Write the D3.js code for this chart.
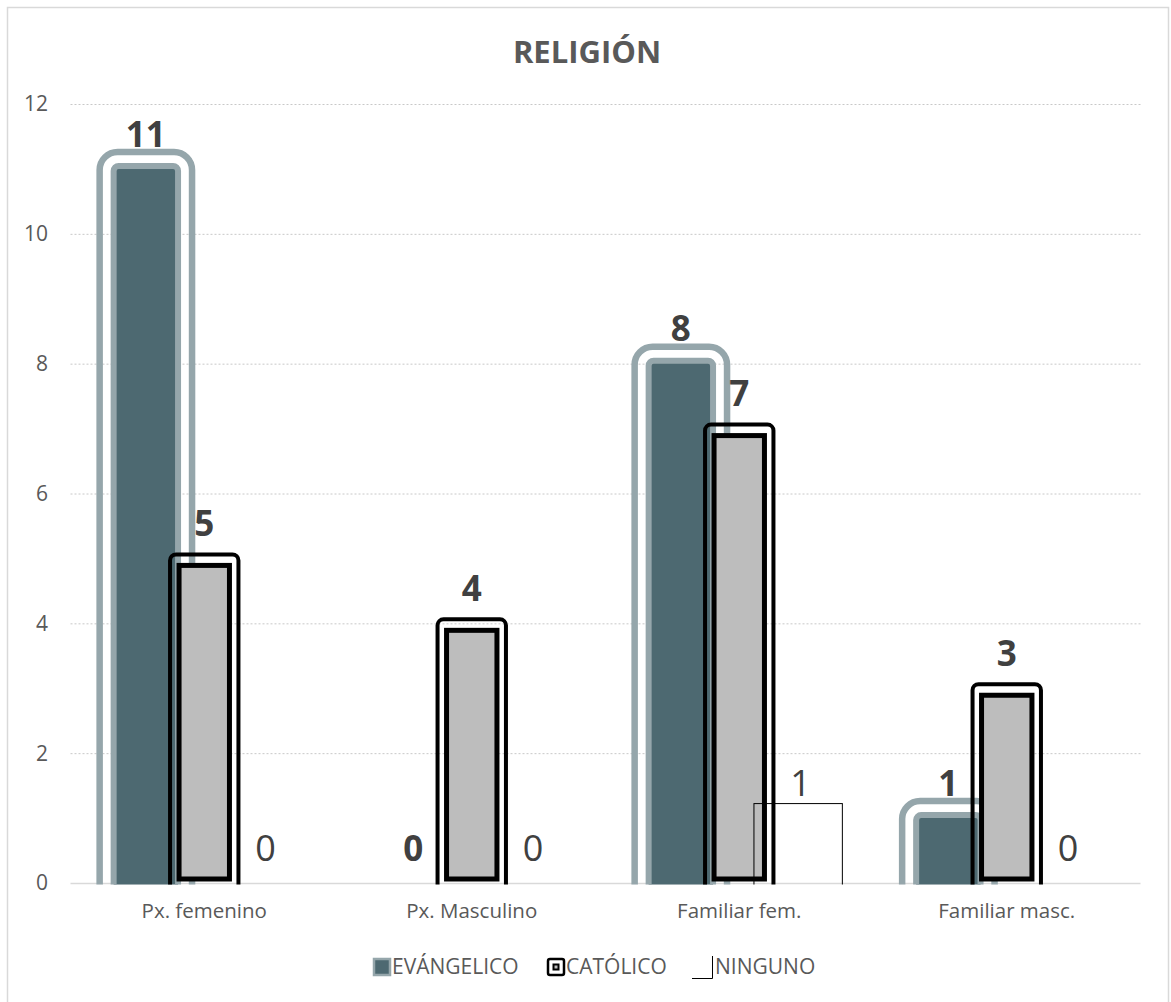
<!DOCTYPE html>
<html>
<head>
<meta charset="utf-8">
<script src="https://cdn.jsdelivr.net/npm/d3@7"></script>
<style>
  body { margin: 0; background: white; }
  text { font-family: "Open Sans", sans-serif; }
</style>
</head>
<body>
<div id="container"></div>
<script>
// chart data
let categories = ["Px. femenino", "Px. Masculino", "Familiar fem.", "Familiar masc."];
let series = ["EVÁNGELICO", "CATÓLICO", "NINGUNO"];
let evangelico = [11, 0, 8, 1];
let catolico = [5, 4, 7, 3];
let ninguno = [0, 0, 1, 0];
let yTicks = [0, 2, 4, 6, 8, 10, 12];

let values = [evangelico, catolico, ninguno];

let w = 1171;
let h = 1002;

let viz = d3.select("#container")
  .append("svg")
  .attr("width", w)
  .attr("height", h)
  .style("background-color", "white");

// chart border
viz.append("rect")
  .attr("x", 7.5).attr("y", 7.5)
  .attr("width", 1161).attr("height", 1010)
  .attr("fill", "none")
  .attr("stroke", "#d9d9d9")
  .attr("stroke-width", 1.5);

// title
viz.append("text")
  .attr("x", 587).attr("y", 63)
  .attr("text-anchor", "middle")
  .attr("font-size", 31)
  .attr("font-weight", "bold")
  .attr("fill", "#595959")
  .text("RELIGIÓN");

let yScale = d3.scaleLinear().domain([0, 12]).range([883, 104]);
let x0 = d3.scaleBand().domain(categories).range([70.5, 1140.5]);
let x1 = d3.scaleBand().domain(series).range([0, x0.bandwidth()]).paddingOuter(0.79);

// gridlines
viz.append("g").selectAll("line")
  .data(yTicks.filter(d => d > 0))
  .enter().append("line")
  .attr("x1", 70.5).attr("x2", 1140.5)
  .attr("y1", d => yScale(d) + 0.5).attr("y2", d => yScale(d) + 0.5)
  .attr("stroke", "#c8c8c8")
  .attr("stroke-dasharray", "2,2");

viz.append("line")
  .attr("x1", 70.5).attr("x2", 1140.5)
  .attr("y1", yScale(0) + 0.5).attr("y2", yScale(0) + 0.5)
  .attr("stroke", "#d9d9d9")
  .attr("stroke-width", 1.5);

// y labels
viz.append("g").selectAll("text")
  .data(yTicks)
  .enter().append("text")
  .attr("x", 48).attr("y", d => yScale(d))
  .attr("dy", "0.35em")
  .attr("text-anchor", "end")
  .attr("font-size", 21)
  .attr("fill", "#595959")
  .text(d => d);

// x labels
viz.append("g").selectAll("text")
  .data(categories)
  .enter().append("text")
  .attr("x", d => x0(d) + x0.bandwidth() / 2)
  .attr("y", 918)
  .attr("text-anchor", "middle")
  .attr("font-size", 20.5)
  .attr("fill", "#595959")
  .text(d => d);

// clip bars at the axis
viz.append("clipPath").attr("id", "plotclip")
  .append("rect").attr("x", 0).attr("y", 0).attr("width", w).attr("height", 884.5);

let bars = viz.append("g").attr("clip-path", "url(#plotclip)");

function barData(si) {
  return categories.map(function (c, i) {
    return { cat: c, value: values[si][i], s: series[si] };
  }).filter(d => d.value > 0);
}

// evangelico: dark fill, gray inner border, rounded outer ring
let ev = bars.append("g").selectAll("g").data(barData(0)).enter().append("g");
ev.append("rect")
  .attr("x", d => x0(d.cat) + x1(d.s) - 17)
  .attr("y", d => yScale(d.value) - 17)
  .attr("width", x1.bandwidth() + 34)
  .attr("height", d => yScale(0) - yScale(d.value) + 40)
  .attr("rx", 18)
  .attr("fill", "none")
  .attr("stroke", "#95a6ab")
  .attr("stroke-width", 6.5);
ev.append("rect")
  .attr("x", d => x0(d.cat) + x1(d.s) - 3)
  .attr("y", d => yScale(d.value) - 3)
  .attr("width", x1.bandwidth() + 6)
  .attr("height", d => yScale(0) - yScale(d.value) + 20)
  .attr("rx", 5)
  .attr("fill", "#4d6971")
  .attr("stroke", "#95a6ab")
  .attr("stroke-width", 6);

// catolico: gray fill, black inner border, rounded black outer ring
let ca = bars.append("g").selectAll("g").data(barData(1)).enter().append("g");
ca.append("rect")
  .attr("x", d => x0(d.cat) + x1(d.s) - 5)
  .attr("y", d => yScale(d.value) - 4)
  .attr("width", x1.bandwidth() + 10)
  .attr("height", d => yScale(0) - yScale(d.value) + 20)
  .attr("rx", 6)
  .attr("fill", "none")
  .attr("stroke", "#000")
  .attr("stroke-width", 4);
ca.append("rect")
  .attr("x", d => x0(d.cat) + x1(d.s) + 4)
  .attr("y", d => yScale(d.value) + 7)
  .attr("width", x1.bandwidth() - 8)
  .attr("height", d => yScale(0) - yScale(d.value) - 11)
  .attr("fill", "#bdbdbd")
  .attr("stroke", "#000")
  .attr("stroke-width", 5);

// ninguno: thin outline
bars.append("g").selectAll("rect").data(barData(2)).enter().append("rect")
  .attr("x", d => x0(d.cat) + x1(d.s) - 15 + 0.5)
  .attr("y", d => yScale(d.value) - 15 + 0.5)
  .attr("width", x1.bandwidth() + 30)
  .attr("height", d => yScale(0) - yScale(d.value) + 20)
  .attr("fill", "none")
  .attr("stroke", "#000")
  .attr("stroke-width", 1);

// data labels
series.forEach(function (s, si) {
  viz.append("g").selectAll("text")
    .data(categories.map((c, i) => ({ cat: c, value: values[si][i] })))
    .enter().append("text")
    .attr("x", d => x0(d.cat) + x1(s) + x1.bandwidth() / 2 + (si == 2 ? 3 : 0))
    .attr("y", d => yScale(d.value) - 35)
    .attr("dy", "0.36em")
    .attr("text-anchor", "middle")
    .attr("font-size", si == 2 ? 36 : 35)
    .attr("font-weight", si == 2 ? "normal" : "bold")
    .attr("fill", "#404040")
    .text(d => d.value);
});

// legend
let legY = 967;
let lg = viz.append("g");
lg.append("rect").attr("x", 374).attr("y", legY - 8).attr("width", 16).attr("height", 16)
  .attr("fill", "#4d6971").attr("stroke", "#95a6ab").attr("stroke-width", 2.5);
lg.append("text").attr("x", 392).attr("y", legY).attr("dy", "0.35em")
  .attr("font-size", 21).attr("fill", "#595959").text(series[0]);

lg.append("rect").attr("x", 548).attr("y", legY - 8).attr("width", 16).attr("height", 16).attr("rx", 2)
  .attr("fill", "white").attr("stroke", "#000").attr("stroke-width", 2.5);
lg.append("rect").attr("x", 553.5).attr("y", legY - 2.5).attr("width", 5).attr("height", 5)
  .attr("fill", "#bdbdbd").attr("stroke", "#000").attr("stroke-width", 2);
lg.append("text").attr("x", 566).attr("y", legY).attr("dy", "0.35em")
  .attr("font-size", 21).attr("fill", "#595959").text(series[1]);

lg.append("path").attr("d", "M692," + (legY + 11.5) + "H712.5V" + (legY - 11))
  .attr("fill", "none").attr("stroke", "#000").attr("stroke-width", 1);
lg.append("text").attr("x", 715).attr("y", legY).attr("dy", "0.35em")
  .attr("font-size", 21).attr("fill", "#595959").text(series[2]);
</script>
</body>
</html>
